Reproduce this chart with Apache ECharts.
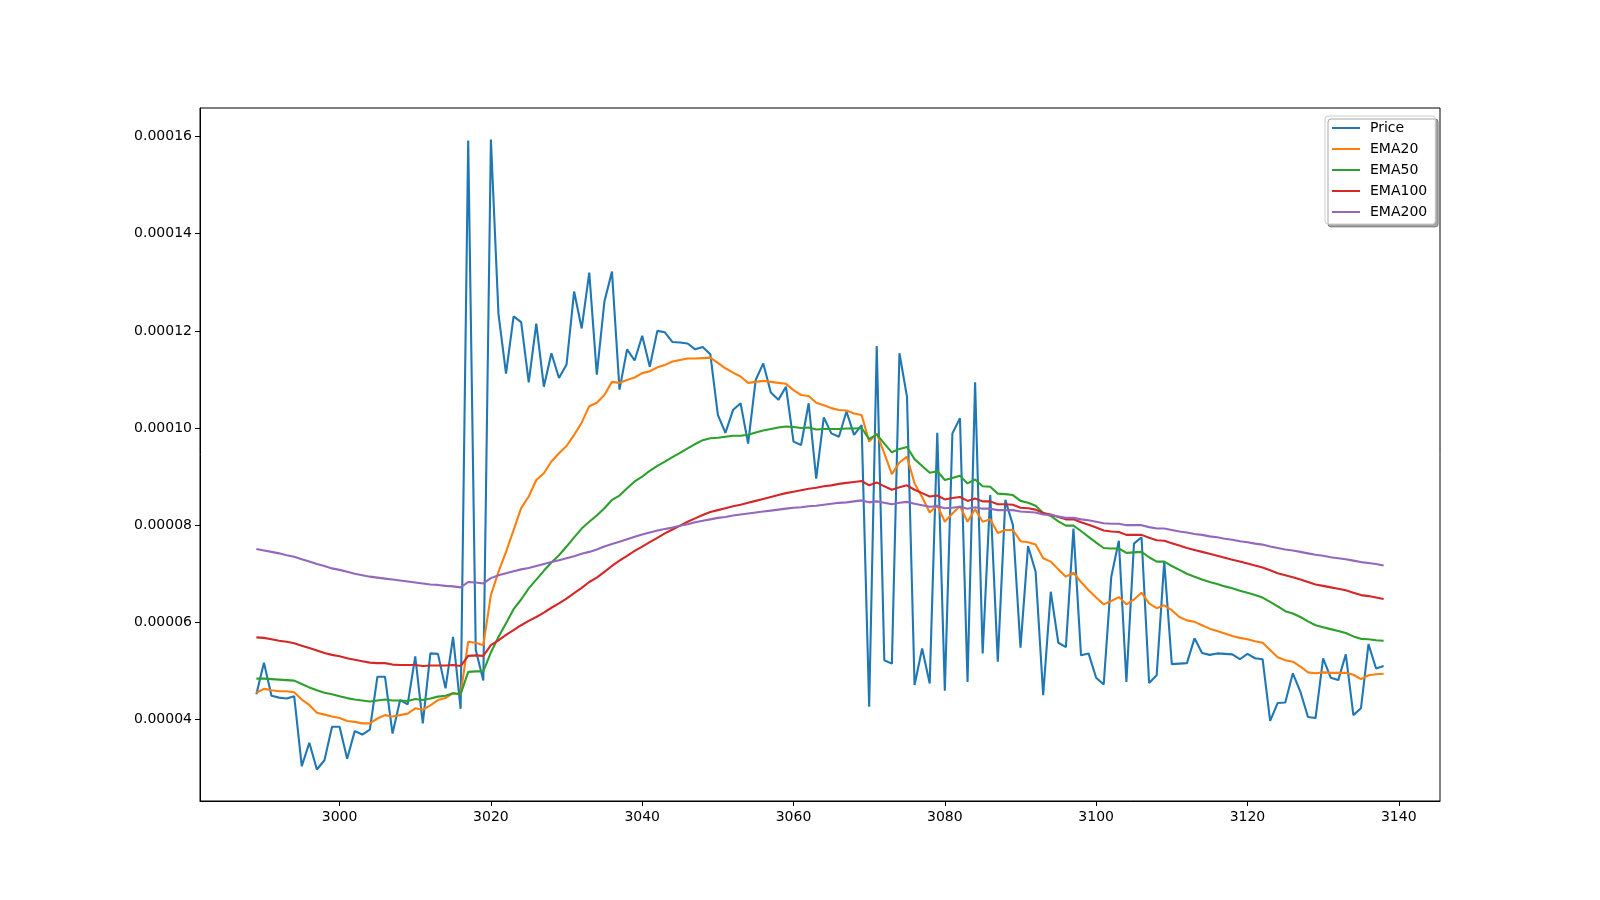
<!DOCTYPE html>
<html>
<head>
<meta charset="utf-8">
<script src="https://cdn.jsdelivr.net/npm/echarts@6/dist/echarts.min.js"></script>
<style>
  html, body { margin: 0; padding: 0; background: #ffffff; }
  #chart { width: 1600px; height: 900px; }
</style>
</head>
<body>
<div id="chart"></div>
<script>
// ---- data (values in units of 1e-5) ----
const UNIT = 1e-5;
const firstIndex = 2989;
const seriesNames = ['Price', 'EMA20', 'EMA50', 'EMA100', 'EMA200'];
const seriesColors = ['#1f77b4', '#ff7f0e', '#2ca02c', '#d62728', '#9467bd'];

const price = [
  4.52, 5.17, 4.49, 4.45, 4.43, 4.48, 3.04, 3.52, 2.97, 3.16,
  3.85, 3.85, 3.19, 3.76, 3.69, 3.79, 4.88, 4.88, 3.71, 4.40,
  4.31, 5.30, 3.92, 5.36, 5.35, 4.64, 5.70, 4.22, 15.92, 5.43,
  4.80, 15.94, 12.35, 11.12, 12.30, 12.18, 10.94, 12.15, 10.85, 11.54,
  11.03, 11.31, 12.81, 12.05, 13.20, 11.10, 12.60, 13.22, 10.79, 11.62,
  11.39, 11.90, 11.26, 12.00, 11.97, 11.77, 11.76, 11.74, 11.62, 11.67,
  11.52, 10.27, 9.90, 10.37, 10.51, 9.68, 10.99, 11.33, 10.73, 10.58,
  10.85, 9.72, 9.65, 10.51, 8.96, 10.22, 9.89, 9.82, 10.34, 9.86,
  10.06, 4.26, 11.69, 5.22, 5.15, 11.54, 10.64, 4.71, 5.46, 4.74,
  9.90, 4.59, 9.89, 10.20, 4.77, 10.94, 5.36, 8.62, 5.19, 8.52,
  8.00, 5.48, 7.57, 7.04, 4.50, 6.63, 5.58, 5.49, 7.93, 5.32,
  5.36, 4.86, 4.72, 6.94, 7.68, 4.77, 7.62, 7.75, 4.75, 4.91,
  7.25, 5.14, 5.15, 5.16, 5.67, 5.37, 5.33, 5.36, 5.35, 5.34,
  5.24, 5.35, 5.26, 5.24, 3.97, 4.34, 4.35, 4.95, 4.57, 4.05,
  4.03, 5.26, 4.86, 4.81, 5.34, 4.09, 4.23, 5.55, 5.05, 5.10
];

const ema20 = [
  4.55, 4.63, 4.60, 4.58, 4.58, 4.56, 4.41, 4.30, 4.14, 4.10,
  4.06, 4.03, 3.97, 3.95, 3.92, 3.92, 4.02, 4.09, 4.06, 4.09,
  4.12, 4.23, 4.20, 4.29, 4.40, 4.44, 4.54, 4.52, 5.60, 5.58,
  5.53, 6.56, 7.04, 7.45, 7.90, 8.35, 8.59, 8.93, 9.07, 9.31,
  9.48, 9.63, 9.86, 10.11, 10.45, 10.52, 10.68, 10.95, 10.93, 10.99,
  11.04, 11.13, 11.17, 11.25, 11.30, 11.37, 11.40, 11.43, 11.43, 11.44,
  11.45, 11.34, 11.23, 11.14, 11.06, 10.93, 10.95, 10.97, 10.95, 10.93,
  10.91, 10.78, 10.68, 10.66, 10.52, 10.47, 10.41, 10.37, 10.36, 10.30,
  10.27, 9.72, 9.89, 9.48, 9.05, 9.29, 9.41, 8.86, 8.58, 8.26,
  8.41, 8.07, 8.24, 8.39, 8.07, 8.33, 8.07, 8.12, 7.84, 7.90,
  7.90, 7.67, 7.65, 7.60, 7.32, 7.25, 7.09, 6.94, 7.02, 6.83,
  6.66, 6.51, 6.37, 6.44, 6.52, 6.37, 6.47, 6.61, 6.39, 6.29,
  6.35, 6.25, 6.11, 6.04, 6.01, 5.94, 5.87, 5.82, 5.77, 5.72,
  5.68, 5.65, 5.61, 5.58, 5.43, 5.28, 5.22, 5.19, 5.09, 4.97,
  4.95, 4.97, 4.96, 4.96, 4.96, 4.92, 4.83, 4.91, 4.93, 4.94
];

const ema50 = [
  4.84, 4.84, 4.83, 4.82, 4.81, 4.80, 4.73, 4.66, 4.60, 4.55,
  4.52, 4.48, 4.44, 4.41, 4.39, 4.37, 4.39, 4.41, 4.39, 4.39,
  4.38, 4.42, 4.40, 4.43, 4.47, 4.49, 4.54, 4.52, 4.98, 4.99,
  4.99, 5.38, 5.70, 5.98, 6.27, 6.47, 6.70, 6.88, 7.06, 7.23,
  7.38, 7.56, 7.75, 7.93, 8.07, 8.20, 8.35, 8.52, 8.61, 8.76,
  8.90, 9.00, 9.12, 9.22, 9.31, 9.40, 9.49, 9.58, 9.67, 9.75,
  9.79, 9.80, 9.82, 9.84, 9.84, 9.86, 9.91, 9.95, 9.98, 10.01,
  10.03, 10.02, 10.00, 10.01, 9.97, 9.98, 9.98, 9.98, 9.99, 9.99,
  10.00, 9.77, 9.87, 9.68, 9.50, 9.57, 9.61, 9.36, 9.22, 9.08,
  9.11, 8.93, 8.97, 9.02, 8.86, 8.94, 8.80, 8.79, 8.65, 8.64,
  8.62, 8.50, 8.46, 8.40, 8.25, 8.19, 8.08, 7.99, 7.99, 7.88,
  7.76, 7.64, 7.53, 7.52, 7.52, 7.43, 7.44, 7.45, 7.34, 7.25,
  7.25, 7.16, 7.08, 7.00, 6.94, 6.88, 6.83, 6.79, 6.74, 6.70,
  6.65, 6.61, 6.56, 6.51, 6.42, 6.33, 6.23, 6.18, 6.11, 6.02,
  5.94, 5.90, 5.86, 5.82, 5.78, 5.71, 5.66, 5.65, 5.63, 5.62
];

const ema100 = [
  5.69, 5.68, 5.65, 5.62, 5.60, 5.57, 5.52, 5.47, 5.42, 5.37,
  5.33, 5.30, 5.26, 5.23, 5.20, 5.17, 5.16, 5.16, 5.13, 5.12,
  5.12, 5.12, 5.10, 5.11, 5.11, 5.11, 5.12, 5.10, 5.31, 5.32,
  5.31, 5.53, 5.63, 5.74, 5.84, 5.94, 6.03, 6.11, 6.20, 6.30,
  6.39, 6.49, 6.60, 6.71, 6.83, 6.92, 7.04, 7.16, 7.27, 7.37,
  7.47, 7.56, 7.65, 7.74, 7.83, 7.91, 7.99, 8.07, 8.14, 8.21,
  8.27, 8.31, 8.35, 8.39, 8.42, 8.46, 8.50, 8.54, 8.58, 8.62,
  8.66, 8.69, 8.72, 8.75, 8.77, 8.80, 8.82, 8.85, 8.87, 8.89,
  8.91, 8.82, 8.88, 8.80, 8.73, 8.78, 8.82, 8.73, 8.66, 8.59,
  8.61, 8.53, 8.56, 8.58, 8.50, 8.55, 8.49, 8.49, 8.43, 8.43,
  8.42, 8.36, 8.35, 8.32, 8.25, 8.22, 8.17, 8.12, 8.12, 8.06,
  8.01, 7.95, 7.89, 7.87, 7.86, 7.80, 7.80, 7.80, 7.74, 7.69,
  7.68, 7.63, 7.58, 7.53, 7.49, 7.45, 7.41, 7.37, 7.33, 7.29,
  7.25, 7.21, 7.17, 7.13, 7.07, 7.01, 6.97, 6.93, 6.88, 6.83,
  6.78, 6.75, 6.72, 6.69, 6.66, 6.61, 6.56, 6.54, 6.51, 6.48
];

const ema200 = [
  7.51, 7.48, 7.45, 7.42, 7.38, 7.35, 7.30, 7.25, 7.20, 7.16,
  7.11, 7.08, 7.04, 7.00, 6.97, 6.94, 6.92, 6.90, 6.88, 6.86,
  6.84, 6.82, 6.80, 6.78, 6.77, 6.75, 6.74, 6.72, 6.83, 6.82,
  6.80, 6.91, 6.97, 7.01, 7.05, 7.09, 7.12, 7.16, 7.20, 7.24,
  7.28, 7.32, 7.36, 7.41, 7.45, 7.50, 7.56, 7.61, 7.66, 7.71,
  7.76, 7.81, 7.85, 7.89, 7.92, 7.95, 7.99, 8.02, 8.06, 8.09,
  8.12, 8.15, 8.17, 8.20, 8.22, 8.24, 8.26, 8.28, 8.30, 8.32,
  8.34, 8.36, 8.37, 8.39, 8.40, 8.42, 8.44, 8.46, 8.47, 8.49,
  8.51, 8.47, 8.49, 8.46, 8.43, 8.46, 8.48, 8.44, 8.41, 8.38,
  8.39, 8.35, 8.36, 8.38, 8.34, 8.37, 8.34, 8.34, 8.31, 8.31,
  8.31, 8.28, 8.27, 8.26, 8.22, 8.21, 8.18, 8.15, 8.15, 8.12,
  8.10, 8.07, 8.04, 8.03, 8.03, 8.00, 8.00, 8.00, 7.96, 7.93,
  7.93, 7.90, 7.87, 7.85, 7.82, 7.80, 7.77, 7.75, 7.72, 7.70,
  7.67, 7.65, 7.62, 7.60, 7.56, 7.53, 7.50, 7.48, 7.45, 7.42,
  7.39, 7.37, 7.34, 7.32, 7.30, 7.27, 7.24, 7.22, 7.20, 7.17
];

const xTickValues = [3000, 3020, 3040, 3060, 3080, 3100, 3120, 3140];
const yTickValues = [0.00004, 0.00006, 0.00008, 0.00010, 0.00012, 0.00014, 0.00016];
const xRange = [2981.55, 3145.45];
const yRange = [0.000023215, 0.000165885];

// ---- chart ----
const allSeries = [price, ema20, ema50, ema100, ema200];
const FONT = 'DejaVu Sans';

const chart = echarts.init(document.getElementById('chart'), null, { renderer: 'canvas', width: 1600, height: 900 });

const option = {
  animation: false,
  backgroundColor: '#ffffff',
  grid: {
    left: 200, right: 160, top: 108, bottom: 99,
    show: true, borderColor: '#000000', borderWidth: 1, backgroundColor: 'transparent',
    containLabel: false
  },
  legend: {
    orient: 'vertical',
    left: 1325, top: 116,
    padding: [5, 8, 5, 7],
    itemWidth: 28, itemHeight: 2,
    itemGap: 7,
    icon: 'rect',
    backgroundColor: '#ffffff',
    borderColor: '#cccccc', borderWidth: 1, borderRadius: 3,
    shadowColor: 'rgba(0,0,0,0.35)', shadowBlur: 0, shadowOffsetX: 3, shadowOffsetY: 3,
    textStyle: { fontFamily: FONT, fontSize: 14, color: '#000000', lineHeight: 14, padding: [0, 0, 0, 5] },
    data: seriesNames
  },
  xAxis: {
    type: 'value',
    min: xRange[0], max: xRange[1],
    splitLine: { show: false },
    axisLine: { show: true, onZero: false, lineStyle: { color: '#000000', width: 1 } },
    axisTick: { show: true, length: 5, inside: false, customValues: xTickValues, lineStyle: { color: '#000000', width: 1 } },
    axisLabel: { customValues: xTickValues, margin: 9, color: '#000000', fontFamily: FONT, fontSize: 14,
      formatter: v => String(Math.round(v)) }
  },
  yAxis: {
    type: 'value',
    min: yRange[0], max: yRange[1],
    splitLine: { show: false },
    axisLine: { show: true, onZero: false, lineStyle: { color: '#000000', width: 1 } },
    axisTick: { show: true, length: 5, inside: false, customValues: yTickValues, lineStyle: { color: '#000000', width: 1 } },
    axisLabel: { customValues: yTickValues, margin: 8, color: '#000000', fontFamily: FONT, fontSize: 14,
      formatter: v => v.toFixed(5) }
  },
  series: allSeries.map((arr, s) => ({
    name: seriesNames[s],
    type: 'line',
    showSymbol: false,
    symbol: 'none',
    color: seriesColors[s],
    lineStyle: { color: seriesColors[s], width: 2.1 },
    z: 2 + s,
    data: arr.map((v, i) => [firstIndex + i, v * UNIT])
  }))
};

chart.setOption(option);
</script>
</body>
</html>
